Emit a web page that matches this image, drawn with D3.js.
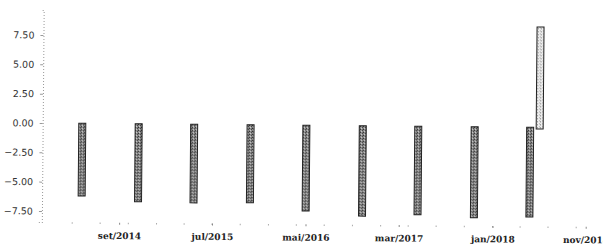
<!DOCTYPE html>
<html>
<head>
<meta charset="utf-8">
<script src="https://cdn.jsdelivr.net/npm/d3@7"></script>
<style>
	body { margin: 0; background: #fff; }
	svg { display: block; }
	.ylab { font-family: "DejaVu Sans", sans-serif; font-size: 9.5px; fill: #333; }
	.xlab { font-family: "DejaVu Serif", serif; font-size: 9px; font-weight: bold; fill: #222; }
</style>
</head>
<body>
<svg id="chart"></svg>
<script>
// semiannual periods (last one is the positive range bar)
var periods = ["2014-05-01", "2014-11-01", "2015-05-01", "2015-11-01", "2016-05-01",
	"2016-11-01", "2017-05-01", "2017-11-01", "2018-05-01", "2018-06-01"];
var barStart = [0, 0, 0, 0, 0, 0, 0, 0, 0, -0.15];
var barEnd = [-6.2, -6.65, -6.7, -6.65, -7.3, -7.7, -7.55, -7.75, -7.65, 8.55];
var yTicks = [7.5, 5, 2.5, 0, -2.5, -5, -7.5];
var xTicks = ["2014-09-01", "2015-07-01", "2016-05-01", "2017-03-01", "2018-01-01", "2018-11-01"];

var width = 603;
var height = 246;
var axisX = 42.7;
var barWidth = 7;

var parse = d3.timeParse("%Y-%m-%d");
var pt = d3.timeFormatLocale({
	dateTime: "%d/%m/%Y %H:%M:%S", date: "%d/%m/%Y", time: "%H:%M:%S",
	periods: ["AM", "PM"],
	days: ["domingo", "segunda", "terça", "quarta", "quinta", "sexta", "sábado"],
	shortDays: ["dom", "seg", "ter", "qua", "qui", "sex", "sáb"],
	months: ["janeiro", "fevereiro", "março", "abril", "maio", "junho", "julho",
		"agosto", "setembro", "outubro", "novembro", "dezembro"],
	shortMonths: ["jan", "fev", "mar", "abr", "mai", "jun", "jul", "ago", "set", "out", "nov", "dez"]
});
var fmt = pt.format("%b/%Y");

var x = d3.scaleTime()
.domain([parse("2014-09-01"), parse("2018-11-01")])
.range([120, 586.6]);

var y = d3.scaleLinear()
.domain([-8.44, 9.63])
.range([222, 10]);

var svg = d3.select("#chart")
.attr("width", width)
.attr("height", height);

var defs = svg.append("defs");
var speck = defs.append("pattern")
.attr("id", "speck")
.attr("width", 3)
.attr("height", 3)
.attr("patternUnits", "userSpaceOnUse");
speck.append("rect").attr("width", 3).attr("height", 3).attr("fill", "#8c8c8c");
speck.append("rect").attr("width", 1).attr("height", 1).attr("fill", "#1a1a1a");
speck.append("rect").attr("x", 2).attr("y", 1).attr("width", 1).attr("height", 1).attr("fill", "#333");
speck.append("rect").attr("x", 1).attr("y", 2).attr("width", 1).attr("height", 1).attr("fill", "#ddd");

var light = defs.append("pattern")
.attr("id", "light")
.attr("width", 3)
.attr("height", 3)
.attr("patternUnits", "userSpaceOnUse");
light.append("rect").attr("width", 3).attr("height", 3).attr("fill", "#eeeeee");
light.append("rect").attr("width", 1).attr("height", 1).attr("fill", "#777");
light.append("rect").attr("x", 2).attr("y", 2).attr("width", 1).attr("height", 1).attr("fill", "#aaa");

// the scanned page is a little tilted
var g = svg.append("g")
.attr("transform", "rotate(0.5," + axisX + "," + y(0) + ")");

// y axis: faint dotted line
var yAxis = g.append("g")
.attr("transform", "translate(" + axisX + ",0)")
.call(d3.axisLeft(y).tickValues(yTicks).tickSize(3).tickPadding(6)
	.tickFormat(function(d) { return d3.format(".2f")(d); }));
yAxis.select(".domain")
.attr("stroke", "#999")
.attr("stroke-dasharray", "1,2");
yAxis.selectAll(".tick line").attr("stroke", "#999");
yAxis.selectAll(".tick text")
.attr("class", "ylab")
.attr("fill", null)
.attr("font-size", null)
.attr("font-family", null);

// x axis: no line, small tick marks, quarterly minor dots
var minor = d3.timeMonth.every(3).range(parse("2014-03-01"), parse("2019-01-01"));
g.selectAll(".minor")
.data(minor)
.enter().append("rect")
.attr("class", "minor")
.attr("x", function(d) { return x(d) - 0.5; })
.attr("y", 222)
.attr("width", 1)
.attr("height", 1.5)
.attr("fill", "#aaa");

var xAxis = g.append("g")
.attr("transform", "translate(0,222)")
.call(d3.axisBottom(x).tickValues(xTicks.map(parse)).tickSize(2).tickPadding(8)
	.tickFormat(fmt));
xAxis.select(".domain").remove();
xAxis.selectAll(".tick line").attr("stroke", "#888");
xAxis.selectAll(".tick text")
.attr("class", "xlab")
.attr("fill", null)
.attr("font-size", null)
.attr("font-family", null);

// bars
g.selectAll(".bar")
.data(periods)
.enter().append("rect")
.attr("class", "bar")
.attr("x", function(d) { return x(parse(d)) - barWidth / 2; })
.attr("y", function(d, i) { return y(Math.max(barStart[i], barEnd[i])); })
.attr("width", barWidth)
.attr("height", function(d, i) { return Math.abs(y(barStart[i]) - y(barEnd[i])); })
.attr("fill", function(d, i) { return barEnd[i] > 0 ? "url(#light)" : "url(#speck)"; })
.attr("stroke", "#222")
.attr("stroke-width", 1);
</script>
</body>
</html>
